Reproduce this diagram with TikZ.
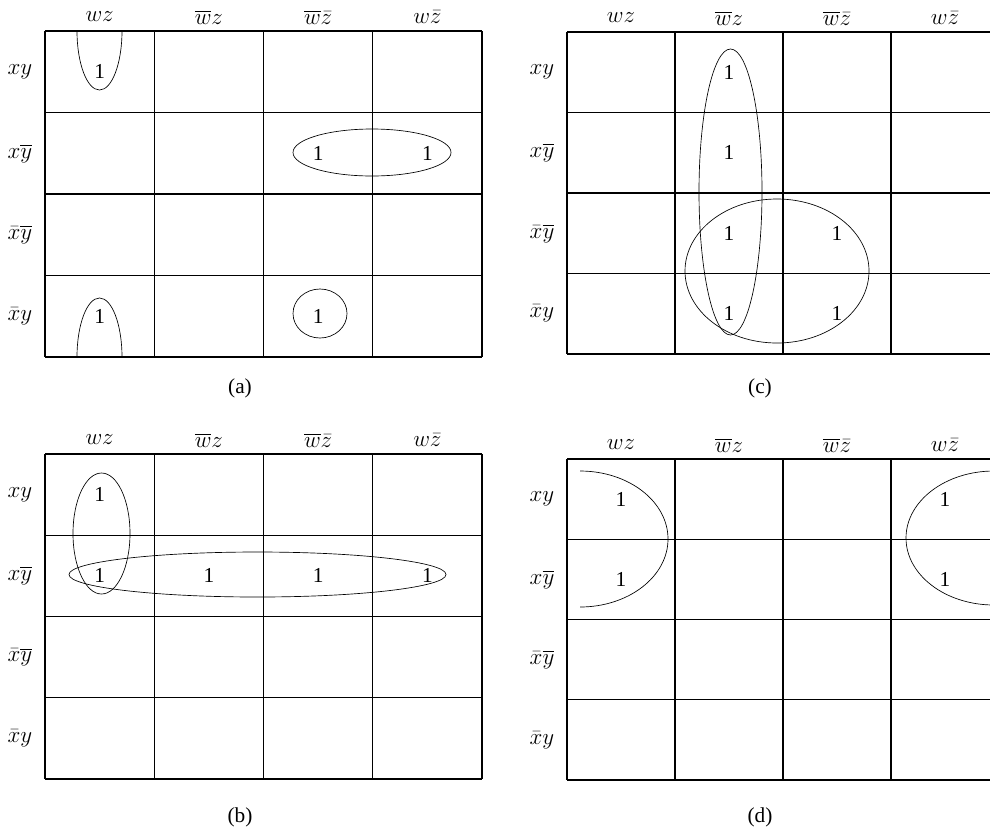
\documentclass[tikz,border=0pt]{standalone}
\usepackage{amsmath}
\usepackage{amssymb}
\usepackage{fontspec}
\setmainfont{Liberation Serif}
\usepackage{tikz}

\tikzset{
    cellline/.style={line width=0.8pt},
    loopline/.style={line width=0.5pt},
    lbl/.style={font=\fontsize{16}{18}\selectfont},
    one/.style={font=\fontsize{16}{18}\selectfont},
    caption/.style={font=\fontsize{16}{19}\selectfont}
}

% Karnaugh grid: prefix, left, top, column width, row height, right end
\newcommand{\kmap}[6]{%
    \begin{scope}[shift={(#2,#3)}]
        \foreach \i in {0,...,4} \draw[cellline] (0,\i*#5) -- (#6-#2,\i*#5);
        \foreach \j in {0,...,4} \draw[cellline] (\j*#4,0) -- (\j*#4,4*#5);
        \foreach \t [count=\k from 0] in {wz,\overline{w}z,\overline{w}\bar{z},w\bar{z}}
            \node[lbl] (#1-c\k) at (\k*#4+#4/2,-14) {$\t$};
        \foreach \t [count=\k from 0] in {xy,x\overline{y},\bar{x}\overline{y},\bar{x}y}
            \node[lbl,inner sep=1pt] (#1-r\k) at (-25,\k*#5+#5/2) {$\t$};
    \end{scope}}

\begin{document}
\begin{tikzpicture}[x=0.0264cm,y=-0.0264cm]
    \useasboundingbox (0,0) rectangle (990,832);
    \clip (0,0) rectangle (990,832);

    % Map (a)
    \kmap{a}{45}{31}{109.25}{81.5}{482}
    \node[one] (a-00) at (a-c0 |- a-r0) {1};
    \node[one] (a-12) at (a-c2 |- a-r1) {1};
    \node[one] (a-13) at (a-c3 |- a-r1) {1};
    \node[one] (a-30) at (a-c0 |- a-r3) {1};
    \node[one] (a-32) at (a-c2 |- a-r3) {1};
    \draw[loopline] (77,31) arc[start angle=180,end angle=0,x radius=22.5,y radius=59];
    \draw[loopline] (77,357) arc[start angle=180,end angle=360,x radius=22.5,y radius=59];
    \draw[loopline] (372,152.5) ellipse[x radius=79,y radius=23.5];
    \draw[loopline] (320,313.5) ellipse[x radius=27,y radius=24.5];
    \node[caption] (cap-a) at (240,388) {(a)};

    % Map (c)
    \kmap{c}{567}{32}{108}{80.5}{1000}
    \node[one] (c-01) at (c-c1 |- c-r0) {1};
    \node[one] (c-11) at (c-c1 |- c-r1) {1};
    \node[one] (c-21) at (c-c1 |- c-r2) {1};
    \node[one] (c-22) at (c-c2 |- c-r2) {1};
    \node[one] (c-31) at (c-c1 |- c-r3) {1};
    \node[one] (c-32) at (c-c2 |- c-r3) {1};
    \draw[loopline] (730.5,192) ellipse[x radius=31.5,y radius=143];
    \draw[loopline] (777,271) ellipse[x radius=92,y radius=72];
    \node[caption] (cap-c) at (760,388) {(c)};

    % Map (b)
    \kmap{b}{45}{454}{109.25}{81.25}{482}
    \node[one] (b-00) at (b-c0 |- b-r0) {1};
    \node[one] (b-10) at (b-c0 |- b-r1) {1};
    \node[one] (b-11) at (b-c1 |- b-r1) {1};
    \node[one] (b-12) at (b-c2 |- b-r1) {1};
    \node[one] (b-13) at (b-c3 |- b-r1) {1};
    \draw[loopline] (101.5,533.5) ellipse[x radius=28.5,y radius=60.5];
    \draw[loopline] (257.5,574.5) ellipse[x radius=188.5,y radius=22.5];
    \node[caption] (cap-b) at (240,817) {(b)};

    % Map (d)
    \kmap{d}{567}{459}{108}{80.25}{1000}
    \node[one] (d-00) at (d-c0 |- d-r0) {1};
    \node[one] (d-10) at (d-c0 |- d-r1) {1};
    \node[one] (d-03) at (d-c3 |- d-r0) {1};
    \node[one] (d-13) at (d-c3 |- d-r1) {1};
    \draw[loopline] (580,471) arc[start angle=-90,end angle=90,x radius=88,y radius=68];
    \draw[loopline] (994,471) arc[start angle=-90,end angle=-270,x radius=88,y radius=67];
    \node[caption] (cap-d) at (760,817) {(d)};
\end{tikzpicture}
\end{document}
